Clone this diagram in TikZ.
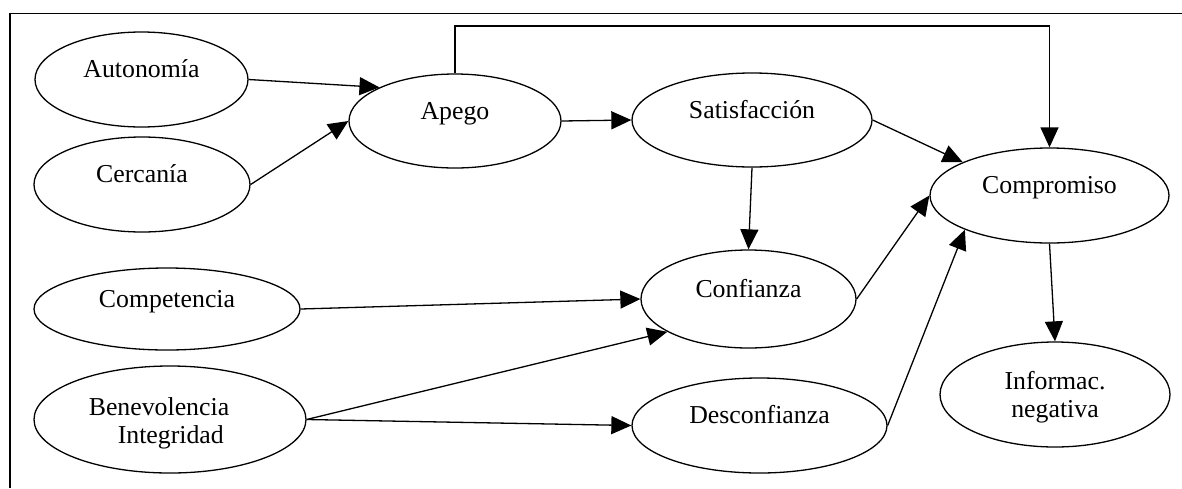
\documentclass[tikz,border=0pt]{standalone}
\usepackage{fontspec}
\setmainfont{Liberation Serif}
\usetikzlibrary{shapes.geometric,arrows.meta}

\begin{document}
\begin{tikzpicture}[x=1pt,y=-1pt,line width=1.3pt,
    >={Triangle[length=20pt,width=18pt]},
    var/.style={ellipse,draw,inner sep=0pt,font=\fontsize{25.8}{28}\selectfont},
    one/.style={text height=18pt,text depth=22pt}]
                \useasboundingbox (0,0) rectangle (1182,488);
                \draw[line width=1.6pt] (10,488) -- (10,13.3) -- (1182,13.3);
                \node[var,one,minimum width=213pt,minimum height=95pt] (auto) at (141.5,79.5) {Autonom\'ia};
                \node[var,one,minimum width=216pt,minimum height=95pt] (cerc) at (142,184.5) {Cercan\'ia};
                \node[var,one,minimum width=212pt,minimum height=94pt] (apego) at (455,121) {Apego};
                \node[var,one,minimum width=240pt,minimum height=94pt] (satis) at (752,120) {Satisfacci\'on};
                \node[var,one,minimum width=239pt,minimum height=95pt] (compr) at (1049.5,195.5) {Compromiso};
                \node[var,one,minimum width=266pt,minimum height=82pt] (compe) at (167,309) {Competencia};
                \node[var,align=left,text height=47pt,text depth=0pt,minimum width=272pt,minimum height=107pt] (benev) at (170,419.5) {Benevolencia\hspace*{22pt}\\\hspace*{29pt}Integridad};
                \node[var,one,minimum width=215pt,minimum height=98pt] (conf) at (748.5,299) {Confianza};
                \node[var,one,minimum width=255pt,minimum height=95pt] (desc) at (759.5,425.5) {Desconfianza};
                \node[var,align=center,text height=45pt,text depth=0pt,minimum width=230pt,minimum height=105pt] (info) at (1055,394.5) {Informac.\\negativa};
                \path[->]
                (auto.east) edge (apego.156.5)
                (cerc.east) edge (apego.west)
                (apego.east) edge (satis.west)
                (satis.east) edge (compr.159)
                (satis.south) edge (conf.north)
                (compe.east) edge (conf.west)
                (benev.east) edge (conf.202)
                (benev.east) edge (desc.west)
                (conf.east) edge (compr.west)
                (desc.east) edge (compr.202.7)
                (compr.south) edge (info.north);
                \draw[->] (apego.north) -- ++(0,-47.3) -| (compr.north);
            \end{tikzpicture}
\end{document}
